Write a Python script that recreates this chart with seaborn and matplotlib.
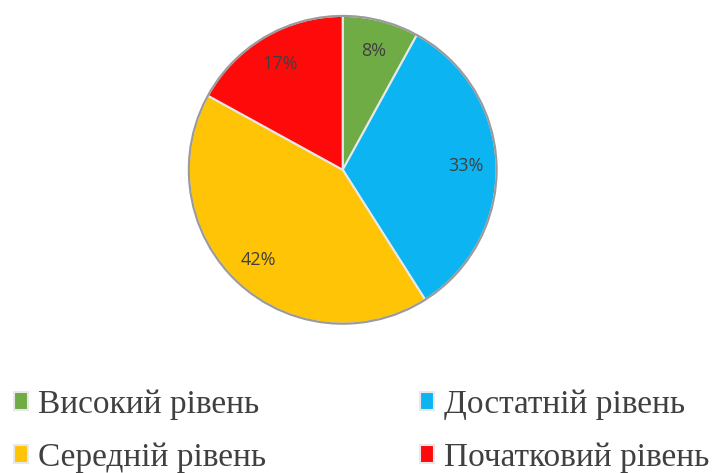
import matplotlib
matplotlib.use('Agg')
import matplotlib.pyplot as plt
import seaborn as sns

sns.set_theme(style='white')

# Data
levels = ['Високий рівень', 'Достатній рівень', 'Середній рівень', 'Початковий рівень']
shares = [8, 33, 42, 17]
colors = ['#6FAC46', '#0DB4F2', '#FFC405', '#FF0A0A']

fig = plt.figure(figsize=(7.2, 4.73), dpi=100)
ax = fig.add_axes([0.258, 0.309, 0.436, 0.664])

wedges, texts, autotexts = ax.pie(
    shares, colors=colors, startangle=90, counterclock=False,
    autopct='%1.0f%%', pctdistance=0.8,
    wedgeprops=dict(edgecolor='#e8e8e8', linewidth=1.5),
    textprops=dict(color='#404040', fontsize=13, family='Open Sans'))
# grey rim around the pie
ax.add_patch(plt.Circle((0, 0), 1.0, fill=False, edgecolor='#9a9a9a', linewidth=1.5))
ax.set_xlim(-1.02, 1.02)
ax.set_ylim(-1.02, 1.02)
ax.set_aspect('equal')
ax.axis('off')

# legend: column-wise order so rows read left to right
order = [0, 2, 1, 3]
leg = fig.legend([wedges[i] for i in order], [levels[i] for i in order],
                 ncol=2, loc='lower left', bbox_to_anchor=(0.02, 0.0),
                 frameon=False, borderpad=0, borderaxespad=0,
                 handlelength=0.42, handleheight=0.42,
                 handletextpad=0.3, columnspacing=4.6, labelspacing=0.68,
                 prop=dict(family='Liberation Serif', size=24))
for t in leg.get_texts():
    t.set_color('#404040')

fig.savefig('out.png', dpi=100, facecolor='white')
